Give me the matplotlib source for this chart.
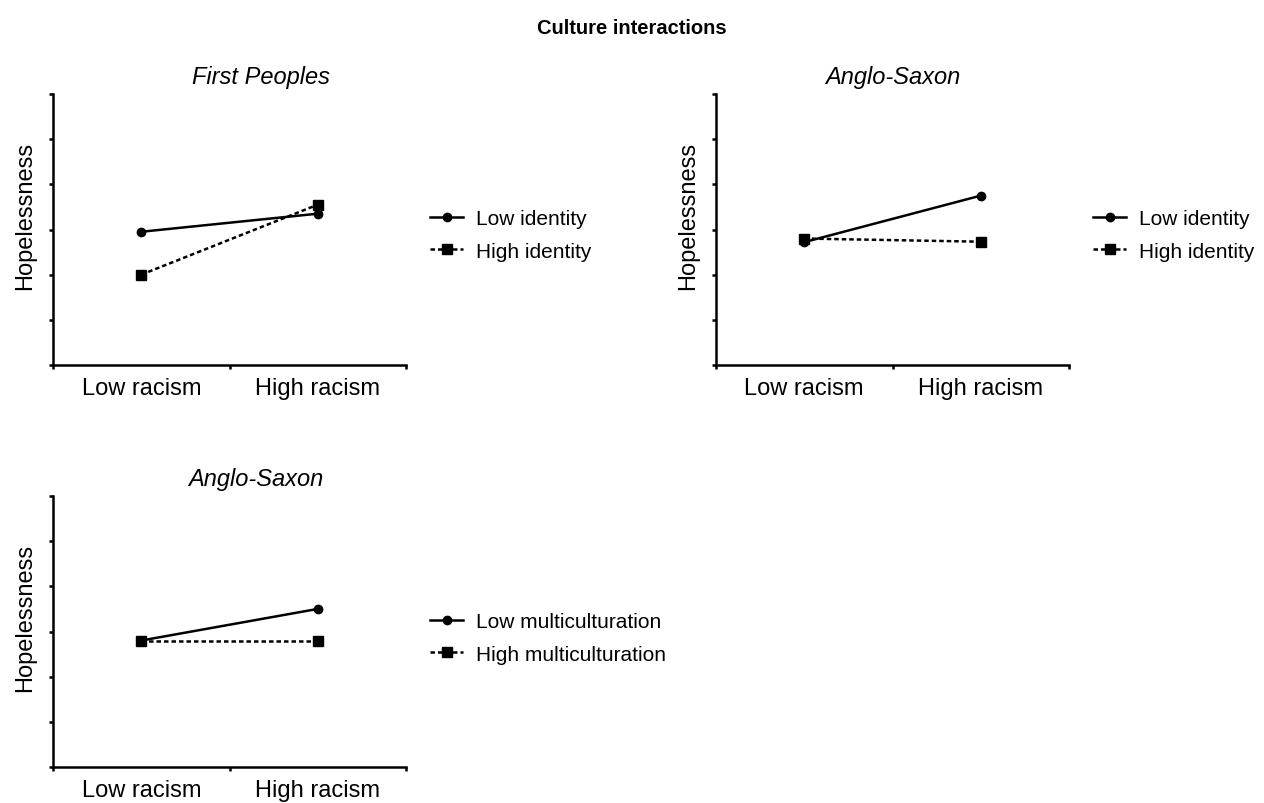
import matplotlib.pyplot as plt

plt.rcParams['font.family'] = ['Liberation Sans', 'DejaVu Sans']

racism = ["Low racism", "High racism"]
xpos = [0.5, 1.5]

# first peoples, identity
fp_low_identity = [2.95, 3.35]
fp_high_identity = [2.0, 3.55]
# anglo-saxon, identity
as_low_identity = [2.72, 3.75]
as_high_identity = [2.80, 2.73]
# anglo-saxon, multiculturation
as_low_multi = [2.80, 3.50]
as_high_multi = [2.80, 2.80]

W, H = 1264, 804
fig = plt.figure(figsize=(W / 100, H / 100), dpi=100)


def panel(left_px, top_px, title, title_x, low, high, labels, leg_y):
    ax = fig.add_axes([left_px / W, (H - top_px - 271) / H, 353 / W, 271 / H])
    ax.plot(xpos, low, color='black', lw=1.8, marker='o', ms=6, label=labels[0])
    ax.plot(xpos, high, color='black', lw=1.8, marker='s', ms=6.5,
            dashes=(1.8, 1.2), label=labels[1])
    ax.set_xlim(0, 2)
    ax.set_ylim(0, 6)
    ax.set_xticks([0, 1, 2])
    ax.set_xticklabels([])
    ax.set_xticks(xpos, racism, minor=True)
    ax.set_yticks(range(7))
    ax.set_yticklabels([])
    ax.tick_params(which='major', length=3, width=1.8, direction='out')
    ax.tick_params(which='minor', length=0, pad=9, labelsize=17)
    for s in ['top', 'right']:
        ax.spines[s].set_visible(False)
    for s in ['left', 'bottom']:
        ax.spines[s].set_linewidth(1.8)
    ax.set_ylabel("Hopelessness", fontsize=17, labelpad=6, y=0.553)
    ax.set_title(title, fontsize=17, style='italic', pad=8, x=title_x)
    ax.legend(loc='center left', bbox_to_anchor=(1.068, leg_y), frameon=False,
              fontsize=15, borderpad=0, borderaxespad=0, handlelength=1.6,
              handletextpad=0.6, labelspacing=0.65)
    return ax


panel(53, 95, "First Peoples", 0.59, fp_low_identity, fp_high_identity,
      ["Low identity", "High identity"], 0.48)
panel(716, 95, "Anglo-Saxon", 0.5, as_low_identity, as_high_identity,
      ["Low identity", "High identity"], 0.48)
panel(53, 497, "Anglo-Saxon", 0.575, as_low_multi, as_high_multi,
      ["Low multiculturation", "High multiculturation"], 0.476)

fig.suptitle("Culture interactions", fontsize=14.5, fontweight='bold',
             y=1 - 28 / H, va='center')

fig.savefig("out.png", dpi=100)
